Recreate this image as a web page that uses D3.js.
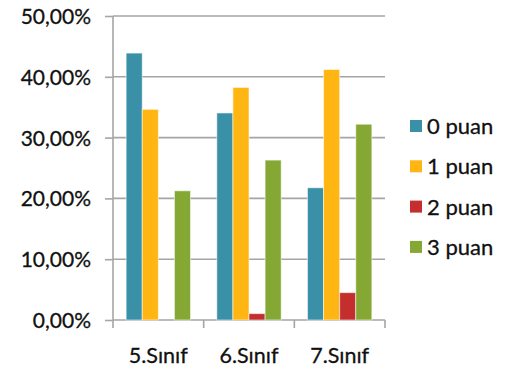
<!DOCTYPE html>
<html>
<head>
<meta charset="utf-8">
<script src="https://cdn.jsdelivr.net/npm/d3@7"></script>
<style>
  html, body { margin: 0; padding: 0; background: #ffffff; }
  svg { display: block; }
  text { font-family: Lato, "Open Sans", sans-serif; fill: #111111; stroke: #111111; stroke-width: 0.3px; }
</style>
</head>
<body>
<svg id="chart" width="510" height="372"></svg>
<script>
// Grade levels on the x axis
const categories = ["5.Sınıf", "6.Sınıf", "7.Sınıf"];
// Score groups (legend entries)
const seriesNames = ["0 puan", "1 puan", "2 puan", "3 puan"];
const seriesColors = ["#3a90a7", "#ffb612", "#c52e2f", "#85a834"];
// Share of students per score, in percent, one array per score group
const puan0 = [43.9, 34.05, 21.75];
const puan1 = [34.65, 38.25, 41.2];
const puan2 = [0, 1.05, 4.5];
const puan3 = [21.25, 26.3, 32.2];
const seriesValues = [puan0, puan1, puan2, puan3];
// Value axis ticks
const yTicks = [0, 10, 20, 30, 40, 50];

const svg = d3.select("#chart");
const plot = { left: 113, right: 385, top: 16, bottom: 320 };

const y = d3.scaleLinear().domain([0, 50]).range([plot.bottom, plot.top]);
const x0 = d3.scaleBand().domain(categories).range([plot.left, plot.right])
  .paddingInner(0.29).paddingOuter(0.145);
const x1 = d3.scaleBand().domain(seriesNames).range([0, x0.bandwidth()]).padding(0);

const fmt = v => d3.format(".2f")(v).replace(".", ",") + "%";
const gridColor = "#a5a5a5";

// Horizontal gridlines plus the short ticks left of the value axis
const yAxis = d3.axisLeft(y).tickValues(yTicks).tickSize(8).tickFormat(fmt).tickPadding(14);
const gy = svg.append("g").attr("transform", `translate(${plot.left},0)`).call(yAxis);
gy.select(".domain").remove();
gy.selectAll(".tick line").attr("stroke", gridColor).attr("stroke-width", 1.6);
gy.selectAll(".tick text").attr("font-size", 21).attr("font-family", "Lato, sans-serif")
  .attr("fill", "#111111").attr("dy", "0.36em");

svg.append("g").selectAll("line").data(yTicks).join("line")
  .attr("x1", plot.left).attr("x2", plot.right)
  .attr("y1", d => y(d)).attr("y2", d => y(d))
  .attr("stroke", gridColor).attr("stroke-width", 1.6);

// Value axis line
svg.append("line")
  .attr("x1", plot.left).attr("x2", plot.left)
  .attr("y1", plot.top).attr("y2", plot.bottom)
  .attr("stroke", gridColor).attr("stroke-width", 1.6);

// Category axis with tick marks on the band boundaries
const boundaries = categories.map(c => x0(c) - x0.step() * x0.paddingInner() / 2)
  .concat([plot.right]);
const gx = svg.append("g");
gx.selectAll("line").data(boundaries).join("line")
  .attr("x1", d => d).attr("x2", d => d)
  .attr("y1", plot.bottom).attr("y2", plot.bottom + 8)
  .attr("stroke", gridColor).attr("stroke-width", 1.6);
gx.selectAll("text").data(categories).join("text")
  .attr("x", d => x0(d) + x0.bandwidth() / 2)
  .attr("y", 363)
  .attr("text-anchor", "middle")
  .attr("font-size", 21.5)
  .text(d => d);

// Grouped bars
const groups = svg.append("g").selectAll("g").data(categories).join("g")
  .attr("transform", d => `translate(${x0(d)},0)`);
groups.selectAll("rect")
  .data((c, ci) => seriesNames.map((s, si) => ({ s, si, v: seriesValues[si][ci] })))
  .join("rect")
  .filter(d => d.v > 0)
  .attr("x", d => x1(d.s))
  .attr("width", x1.bandwidth())
  .attr("y", d => y(d.v))
  .attr("height", d => y(0) - y(d.v))
  .attr("fill", d => seriesColors[d.si])
  .attr("stroke", "#ffffff")
  .attr("stroke-opacity", 0.55)
  .attr("stroke-width", 1);

// Legend
const legend = svg.append("g").selectAll("g").data(seriesNames).join("g")
  .attr("transform", (d, i) => `translate(410,${126 + i * 40.3})`);
legend.append("rect")
  .attr("x", 0).attr("y", -6).attr("width", 12).attr("height", 12)
  .attr("fill", (d, i) => seriesColors[i]);
legend.append("text")
  .attr("x", 17).attr("y", 0).attr("dy", "0.36em")
  .attr("font-size", 22)
  .text(d => d);
</script>
</body>
</html>
